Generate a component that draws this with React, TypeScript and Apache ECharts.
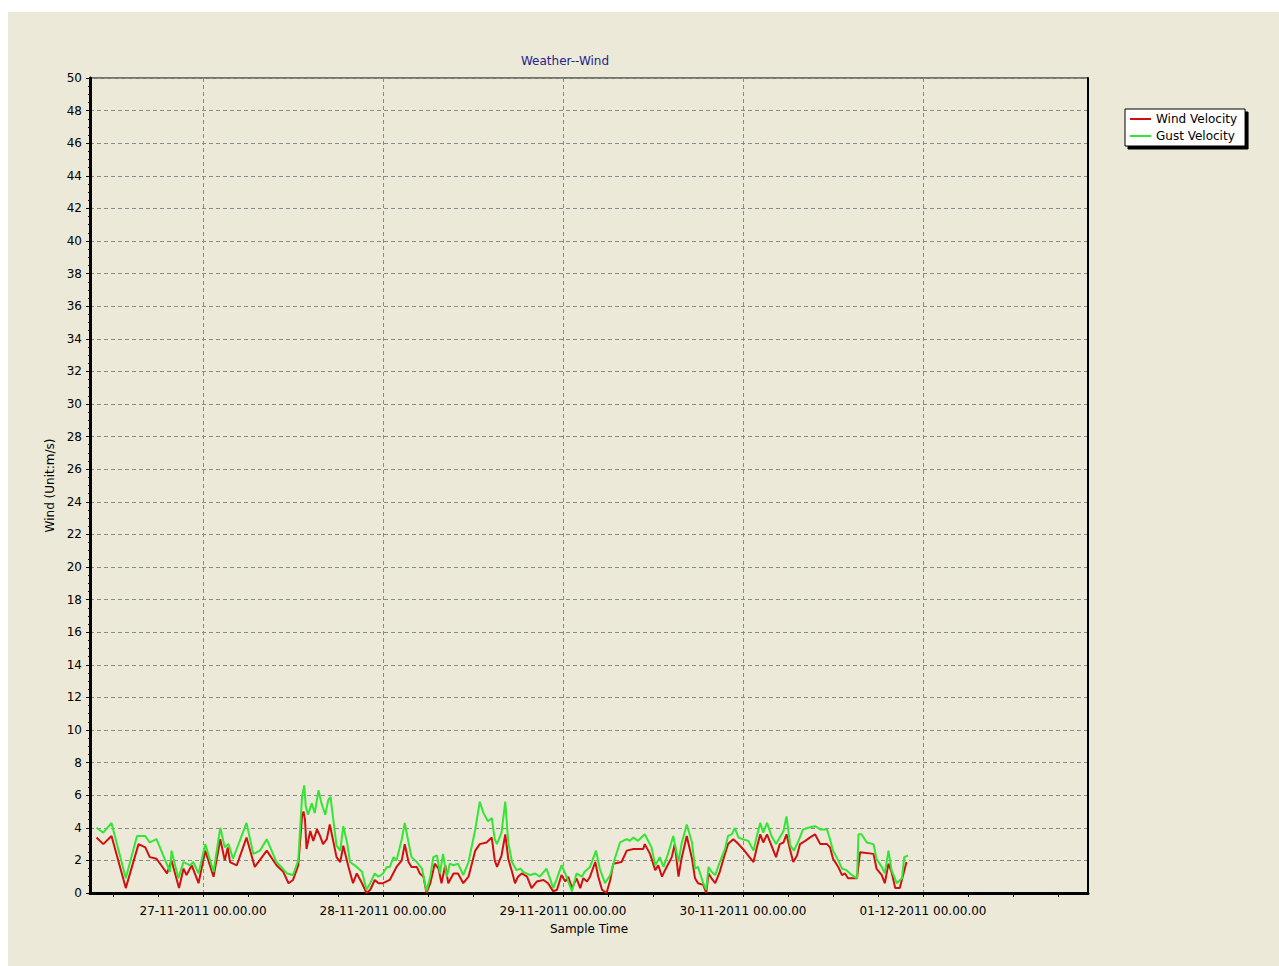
import React, { useEffect, useRef } from 'react';
import * as echarts from 'echarts';

// x values: hours since 26-11-2011 00:00
const windHours = [
  9.8, 10.7, 11.8, 13.7, 15.4, 16.3, 16.9, 17.8, 19.2, 19.8, 20.8, 21.4, 21.8, 22.5, 23.4, 24.3, 25.4, 26.3, 26.9, 27.3,
  27.6, 28.5, 29.8, 30.9, 32.5, 33.8, 34.7, 35.4, 36.0,
  36.7, 37.2, 37.4, 37.6, 37.8, 38.3, 38.7, 39.2, 39.6, 40.0, 40.5, 40.9, 41.4, 41.8, 42.3, 42.7, 43.4, 44.0, 44.5, 45.2,
  45.8, 46.3, 46.9, 47.4, 48.0, 48.9, 49.8, 50.5, 50.9, 51.4, 51.8, 52.5, 52.9, 53.4, 53.8, 54.3, 54.9, 55.4, 55.8, 56.3,
  56.7, 57.4, 58.0, 58.7, 59.4, 60.3, 60.9, 61.8, 62.5, 62.9,
  63.2, 63.8, 64.3, 64.7, 65.2, 65.6, 66.0, 66.5, 67.2, 67.8, 68.5, 69.4, 70.0, 70.7, 71.2, 71.8, 72.3, 72.7, 73.2, 73.8,
  74.3, 74.7, 75.2, 75.6, 76.3, 76.7, 77.2, 77.8, 78.3, 78.7, 79.8, 80.5, 81.4, 82.7, 82.9, 83.6, 84.3, 84.7, 85.2, 85.6,
  86.5, 86.9, 87.4, 87.8, 88.5, 89.2, 89.6,
  90.0, 90.7, 91.1, 91.4, 91.8, 92.3, 92.9, 93.4, 94.0, 94.7, 95.4, 96.0, 96.7, 97.4, 97.8, 98.3, 98.7, 99.2, 99.8, 100.4,
  100.9, 101.4, 101.8, 102.3, 102.7, 103.2, 103.6, 104.3, 104.9, 105.6, 106.3, 107.2, 107.6, 108.0, 108.7, 109.2, 109.6, 110.0, 111.2, 111.6,
  113.4, 113.8, 114.5, 114.9, 115.4, 115.8, 116.3, 116.9, 117.4, 117.8,
];
const windValues = [
  3.4, 3.0, 3.5, 0.3, 3.0, 2.8, 2.2, 2.1, 1.2, 2.0, 0.3, 1.5, 1.1, 1.7, 0.6, 2.6, 1.0, 3.3, 2.0, 2.8,
  1.9, 1.7, 3.4, 1.6, 2.6, 1.7, 1.3, 0.6, 0.8,
  1.7, 4.7, 5.0, 4.5, 2.7, 3.8, 3.2, 3.9, 3.5, 3.0, 3.3, 4.2, 3.1, 2.2, 1.9, 2.9, 1.6, 0.6, 1.2, 0.6,
  0.0, 0.2, 0.8, 0.6, 0.6, 0.8, 1.6, 2.0, 3.0, 1.9, 1.6, 1.6, 1.2, 1.0, 0.0, 0.6, 1.8, 1.5, 0.6, 1.7,
  0.6, 1.2, 1.2, 0.6, 1.0, 2.6, 3.0, 3.1, 3.4, 2.0,
  1.6, 2.3, 3.6, 2.1, 1.3, 0.6, 1.0, 1.2, 1.0, 0.3, 0.7, 0.8, 0.6, 0.1, 0.2, 1.1, 0.7, 1.0, 0.3, 0.9,
  0.3, 0.9, 0.7, 1.0, 1.9, 1.0, 0.2, 0.0, 0.8, 1.8, 1.9, 2.6, 2.7, 2.7, 3.0, 2.4, 1.4, 1.7, 1.0, 1.4,
  2.2, 3.0, 1.0, 2.1, 3.5, 2.1, 0.9,
  0.6, 0.5, 0.0, 1.2, 0.9, 0.6, 1.3, 2.1, 3.0, 3.3, 3.0, 2.7, 2.3, 1.9, 2.7, 3.6, 3.1, 3.6, 2.9, 2.2,
  3.0, 3.1, 3.6, 2.6, 1.9, 2.3, 3.0, 3.2, 3.4, 3.6, 3.0, 3.0, 2.8, 2.1, 1.6, 1.1, 1.2, 0.9, 0.9, 2.5,
  2.4, 1.5, 1.1, 0.6, 1.8, 1.3, 0.3, 0.3, 1.2, 1.9,
];

const gustHours = [
  9.8, 10.7, 11.8, 13.7, 15.2, 16.3, 16.9, 17.8, 19.6, 19.8, 20.7, 21.4, 22.3, 22.7, 23.4, 24.3, 25.4, 26.3, 26.9, 27.4,
  28.0, 29.8, 30.7, 31.6, 32.5, 33.8, 35.2, 36.0,
  36.7, 37.2, 37.5, 37.7, 38.0, 38.5, 38.9, 39.4, 39.8, 40.3, 40.7, 41.0, 41.4, 41.8, 42.3, 42.7, 43.2, 43.6, 44.5, 45.2,
  45.8, 46.3, 46.9, 47.4, 48.0, 48.5, 48.9, 49.4, 49.8, 50.5, 50.9, 51.4, 51.8, 52.5, 53.2, 53.8, 54.3, 54.7, 55.2, 55.6,
  56.0, 56.5, 56.9, 57.4, 58.0, 58.7, 59.4, 60.3, 60.9, 61.4, 62.0, 62.5, 62.9,
  63.2, 63.8, 64.3, 64.7, 65.2, 65.8, 66.3, 66.7, 67.6, 68.3, 68.9, 69.8, 70.7, 71.2, 71.8, 72.3, 73.2, 73.8, 74.5, 74.9,
  75.6, 76.4, 76.9, 77.6, 78.3, 78.9, 79.6, 80.5, 80.9, 81.4, 82.0, 82.9, 83.8, 84.3, 84.9, 85.4, 86.0, 86.7, 87.4, 87.8,
  88.5, 89.2, 89.6,
  90.0, 90.7, 91.1, 91.4, 91.8, 92.3, 92.9, 93.6, 94.0, 94.5, 94.9, 95.4, 96.0, 96.7, 97.4, 97.8, 98.3, 98.7, 99.2, 99.8,
  100.4, 100.9, 101.4, 101.8, 102.3, 102.8, 103.4, 104.0, 104.7, 105.6, 106.3, 107.2, 107.6, 108.0, 108.7, 109.2, 109.8, 110.5, 111.2, 111.4,
  111.8, 112.5, 113.4, 113.8, 114.5, 114.9, 115.4, 115.8, 116.5, 117.2, 117.5, 118.0,
];
const gustValues = [
  4.0, 3.7, 4.3, 0.9, 3.5, 3.5, 3.1, 3.3, 1.3, 2.6, 0.9, 1.9, 1.7, 1.9, 1.2, 3.0, 1.3, 4.0, 2.8, 3.0,
  2.1, 4.3, 2.4, 2.6, 3.3, 1.9, 1.2, 1.1,
  2.0, 5.9, 6.6, 5.3, 4.8, 5.5, 4.9, 6.3, 5.5, 4.8, 5.7, 5.9, 4.4, 2.9, 2.6, 4.1, 3.1, 1.9, 1.6, 1.3,
  0.2, 0.6, 1.2, 1.0, 1.2, 1.6, 1.6, 2.2, 2.0, 3.3, 4.3, 3.1, 2.2, 1.9, 1.5, 0.1, 1.0, 2.2, 2.3, 1.2,
  2.4, 1.0, 1.8, 1.7, 1.8, 1.1, 1.9, 3.9, 5.6, 4.9, 4.4, 4.6, 3.3,
  3.0, 3.7, 5.6, 3.1, 1.9, 1.4, 1.5, 1.3, 1.1, 1.2, 1.0, 1.5, 0.3, 0.9, 1.7, 1.2, 0.1, 1.2, 1.0, 1.3,
  1.6, 2.6, 1.5, 0.6, 1.1, 2.1, 3.1, 3.3, 3.2, 3.4, 3.2, 3.6, 2.8, 1.7, 2.2, 1.6, 2.4, 3.5, 1.9, 3.0,
  4.2, 3.1, 1.5,
  1.6, 0.6, 0.2, 1.6, 1.3, 1.1, 1.9, 2.7, 3.5, 3.6, 4.0, 3.4, 3.3, 3.2, 2.6, 3.4, 4.3, 3.7, 4.3, 3.5,
  3.0, 3.4, 3.8, 4.7, 2.9, 2.6, 3.2, 3.9, 4.0, 4.1, 3.9, 3.9, 3.3, 2.6, 2.0, 1.5, 1.4, 1.1, 0.9, 3.6,
  3.6, 3.1, 3.0, 2.1, 1.6, 1.2, 2.6, 1.4, 0.6, 0.9, 2.2, 2.3,
];

const seriesNames = ['Wind Velocity', 'Gust Velocity'];
const tickHours = [24, 48, 72, 96, 120];
const tickLabels = [
  '27-11-2011 00.00.00',
  '28-11-2011 00.00.00',
  '29-11-2011 00.00.00',
  '30-11-2011 00.00.00',
  '01-12-2011 00.00.00',
];
const xMin = 8.93;
const xMax = 142.0;
const minorHours: number[] = [];
for (let h = 12; h < xMax; h += 6) minorHours.push(h);

const FONT = "'DejaVu Sans', Verdana, sans-serif";
const FS = 12;

export default function App() {
  const ref = useRef<HTMLDivElement>(null);
  useEffect(() => {
    const chart = echarts.init(ref.current!, null, { renderer: 'svg' });
    const windData = windHours.map((h, i) => [h, windValues[i]]);
    const gustData = gustHours.map((h, i) => [h, gustValues[i]]);
    const dash = { color: '#8a8a8a', width: 1, type: [4, 3] as any };
    chart.setOption({
      animation: false,
      backgroundColor: '#ECE9D8',
      textStyle: { fontFamily: FONT },
      graphic: [
        {
          type: 'text',
          x: 557,
          y: 49,
          style: {
            text: 'Weather--Wind',
            fill: '#23238c',
            font: `${FS}px ${FONT}`,
            textAlign: 'center',
            textVerticalAlign: 'middle',
          },
        },
      ],
      grid: {
        left: 82,
        top: 66,
        right: 191,
        bottom: 73,
        show: true,
        borderColor: '#000',
        borderWidth: 1,
        backgroundColor: 'transparent',
      },
      legend: {
        orient: 'vertical',
        left: 1117,
        top: 97,
        icon: 'rect',
        itemWidth: 21,
        itemHeight: 2,
        itemGap: 3,
        padding: [3, 8, 3, 5],
        backgroundColor: '#fff',
        borderColor: '#000',
        borderWidth: 1,
        borderRadius: 0,
        shadowColor: '#000',
        shadowOffsetX: 3,
        shadowOffsetY: 3,
        shadowBlur: 0,
        selectedMode: false,
        textStyle: { fontSize: FS, lineHeight: 14, color: '#000', fontFamily: FONT },
        data: seriesNames,
      },
      xAxis: [
        {
          type: 'value',
          min: xMin,
          max: xMax,
          name: 'Sample Time',
          nameLocation: 'middle',
          nameGap: 30,
          nameTextStyle: { fontSize: FS, color: '#000', fontFamily: FONT },
          axisLine: { show: true, onZero: false, lineStyle: { color: '#000', width: 3 } },
          axisTick: { show: true, customValues: tickHours, length: 4, lineStyle: { color: '#000' } },
          axisLabel: {
            customValues: tickHours,
            margin: 12,
            fontSize: FS,
            color: '#000',
            fontFamily: FONT,
            formatter: (v: number) => {
              const i = tickHours.indexOf(Math.round(v));
              return i >= 0 ? tickLabels[i] : '';
            },
          },
          splitLine: { show: true, lineStyle: dash },
        },
        {
          type: 'value',
          min: xMin,
          max: xMax,
          position: 'bottom',
          axisLine: { show: false, onZero: false },
          axisTick: { show: true, customValues: minorHours, length: 4, lineStyle: { color: '#000' } },
          axisLabel: { show: false },
          splitLine: { show: false },
        },
      ],
      yAxis: [
        {
          type: 'value',
          min: 0,
          max: 50,
          interval: 2,
          name: 'Wind (Unit:m/s)',
          nameLocation: 'middle',
          nameGap: 27,
          nameTextStyle: { fontSize: FS, color: '#000', fontFamily: FONT },
          axisLine: { show: true, onZero: false, lineStyle: { color: '#000', width: 3 } },
          axisTick: { show: true, length: 4, lineStyle: { color: '#000' } },
          minorTick: { show: true, splitNumber: 4, length: 2, lineStyle: { color: '#000' } },
          axisLabel: { margin: 8, fontSize: FS, color: '#000', fontFamily: FONT },
          splitLine: { show: true, lineStyle: dash },
        },
        {
          type: 'value',
          min: 0,
          max: 50,
          interval: 2,
          position: 'right',
          axisLine: { show: true, onZero: false, lineStyle: { color: '#000', width: 2 } },
          axisTick: { show: false },
          axisLabel: { show: false },
          splitLine: { show: false },
        },
      ],
      series: [
        {
          name: seriesNames[0],
          type: 'line',
          data: windData,
          showSymbol: false,
          symbol: 'none',
          color: '#d01010',
          lineStyle: { color: '#d01010', width: 2 },
          xAxisIndex: 0,
          yAxisIndex: 0,
        },
        {
          name: seriesNames[1],
          type: 'line',
          data: gustData,
          showSymbol: false,
          symbol: 'none',
          color: '#33e633',
          lineStyle: { color: '#33e633', width: 2 },
          xAxisIndex: 0,
          yAxisIndex: 0,
        },
      ],
    });
    return () => chart.dispose();
  }, []);
  return (
    <div
      ref={ref}
      style={{ position: 'absolute', left: 8, top: 12, width: 1271, height: 954, background: '#ECE9D8' }}
    />
  );
}
